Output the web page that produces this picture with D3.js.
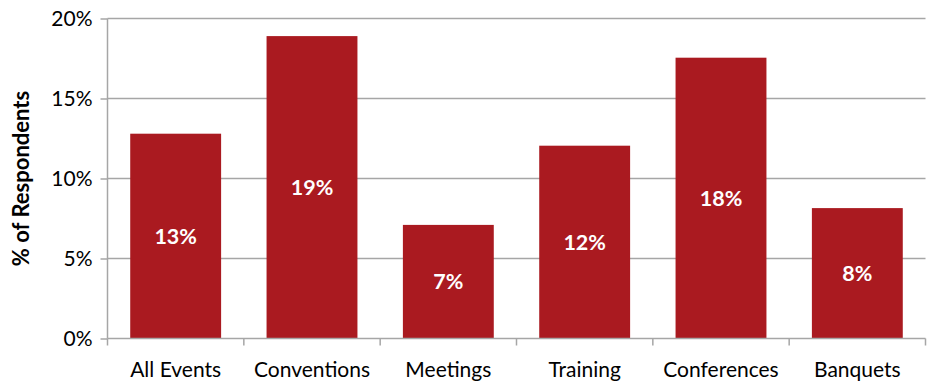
<!DOCTYPE html>
<html><head><meta charset="utf-8">
<script src="https://cdn.jsdelivr.net/npm/d3@7"></script>
<style>body{margin:0;background:#fff}svg{display:block}text{font-family:Lato,"Open Sans",sans-serif}</style>
</head><body><svg id="c" width="927" height="383"></svg>
<script>
const categories = ["All Events","Conventions","Meetings","Training","Conferences","Banquets"];
const values = [12.8, 18.9, 7.1, 12.05, 17.55, 8.15];
const yTicks = [0,5,10,15,20];

const svg = d3.select("#c");
const x = d3.scaleBand().domain(categories).range([107.5, 925.5]).paddingInner(1/3).paddingOuter(1/6);
const y = d3.scaleLinear().domain([0,20]).range([338.5, 18.5]);
const grid = "#a6a6a6";

// gridlines
svg.append("g").selectAll("line").data(yTicks.filter(d=>d>0)).join("line")
  .attr("x1",107.5).attr("x2",925.5).attr("y1",d=>y(d)).attr("y2",d=>y(d))
  .attr("stroke",grid).attr("stroke-width",1.5);

// bars
svg.append("g").selectAll("rect").data(values).join("rect")
  .attr("x",(d,i)=>x(categories[i])).attr("width",x.bandwidth())
  .attr("y",d=>y(d)).attr("height",d=>y(0)-y(d)).attr("fill","#aa1a20");

// value labels
svg.append("g").selectAll("text").data(values).join("text")
  .attr("x",(d,i)=>x(categories[i])+x.bandwidth()/2)
  .attr("y",d=>(y(d)+y(0))/2)
  .attr("dy","0.36em").attr("text-anchor","middle")
  .attr("fill","#fff").attr("font-weight","bold").attr("font-size",21.5)
  .text(d=>Math.round(d)+"%");

// y axis
const ya = svg.append("g").attr("transform","translate(107.5,0)")
  .call(d3.axisLeft(y).tickValues(yTicks).tickFormat(d=>d+"%").tickSize(7).tickPadding(8));
ya.select(".domain").attr("stroke",grid).attr("stroke-width",1.5).attr("d","M0,18.5V338.5");
ya.selectAll(".tick line").attr("stroke",grid).attr("stroke-width",1.5);
ya.selectAll(".tick text").attr("font-size",21).attr("fill","#000").attr("font-family","Lato");

// x axis
const xa = svg.append("g").attr("transform","translate(0,338.5)")
  .call(d3.axisBottom(x).tickSize(0).tickPadding(38));
xa.select(".domain").attr("stroke",grid).attr("stroke-width",1.5).attr("d","M107.5,0H925.5");
xa.selectAll(".tick text").attr("font-size",21).attr("fill","#000").attr("font-family","Lato").attr("dy","0");
// category boundary ticks
const bounds = categories.map(c=>x(c)-x.step()*x.paddingInner()/2).concat([925.5]);
bounds[0]=107.5;
svg.append("g").selectAll("line").data(bounds).join("line")
  .attr("x1",d=>d).attr("x2",d=>d).attr("y1",338.5).attr("y2",345.5)
  .attr("stroke",grid).attr("stroke-width",1.5);

// y title
svg.append("text").attr("transform","translate(29,178.5) rotate(-90)")
  .attr("text-anchor","middle").attr("font-weight","bold").attr("font-size",22)
  .text("% of Respondents");
</script></body></html>
